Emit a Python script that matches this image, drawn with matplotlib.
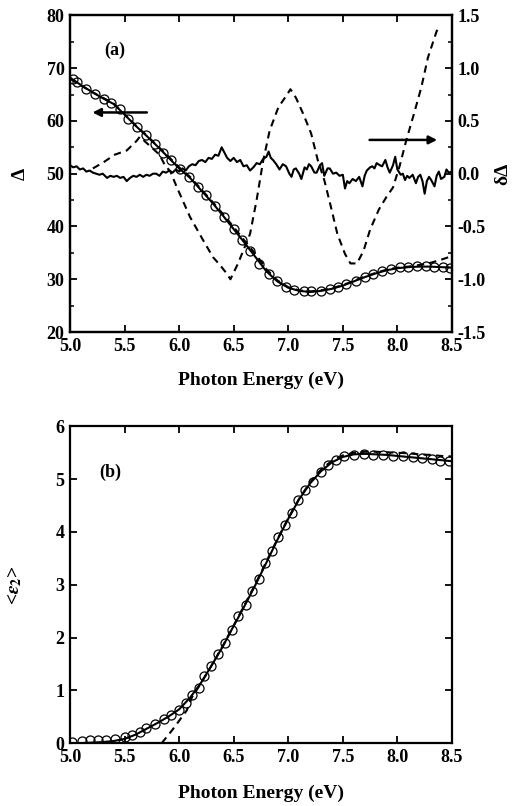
import numpy as np
import matplotlib
matplotlib.use('Agg')
import matplotlib.pyplot as plt
from matplotlib.ticker import MultipleLocator

plt.rcParams['font.family'] = ['Liberation Serif', 'DejaVu Serif']
plt.rcParams['font.weight'] = 'bold'
plt.rcParams['mathtext.fontset'] = 'stix'

# ---- panel (a): Delta (left axis) ----
a_circ_E = [5.03, 5.06, 5.15, 5.23, 5.31, 5.38, 5.46, 5.53, 5.61, 5.70, 5.78, 5.85,
            5.93, 6.01, 6.09, 6.17, 6.25, 6.33, 6.41, 6.50, 6.58, 6.65, 6.73, 6.82,
            6.90, 6.98, 7.05, 7.14, 7.21, 7.30, 7.38, 7.46, 7.53, 7.62, 7.70, 7.78,
            7.86, 7.94, 8.02, 8.10, 8.18, 8.26, 8.34, 8.42, 8.48]
a_circ_D = [67.9, 67.4, 66.1, 65.1, 64.2, 63.4, 62.2, 60.4, 58.9, 57.3, 55.7, 53.9,
            52.5, 50.9, 49.4, 47.5, 45.9, 43.8, 41.8, 39.6, 37.5, 35.4, 32.9, 31.0,
            29.7, 28.6, 27.9, 27.7, 27.7, 27.8, 28.2, 28.5, 29.1, 29.7, 30.4, 31.0,
            31.5, 32.0, 32.3, 32.3, 32.5, 32.5, 32.3, 32.3, 32.2]

fit_E = [5.0, 5.1, 5.2, 5.3, 5.4, 5.5, 5.6, 5.7, 5.8, 5.9, 6.0, 6.1, 6.2, 6.3, 6.4,
         6.5, 6.6, 6.7, 6.8, 6.9, 7.0, 7.1, 7.2, 7.3, 7.4, 7.5, 7.6, 7.7, 7.8, 7.9,
         8.0, 8.1, 8.2, 8.3, 8.4, 8.5]
a_fit_D = [68.2, 66.8, 65.5, 64.3, 63.2, 61.2, 59.1, 57.2, 55.2, 53.1, 51.0, 49.2,
           46.9, 44.6, 42.1, 39.5, 36.9, 34.2, 31.5, 29.6, 28.4, 27.8, 27.6, 27.8,
           28.2, 28.8, 29.6, 30.4, 31.1, 31.7, 32.1, 32.3, 32.4, 32.4, 32.3, 32.2]
a_alt_D = [68.0, 66.7, 65.5, 64.4, 63.3, 61.3, 59.2, 57.3, 55.3, 53.3, 51.2, 49.4,
           47.1, 44.8, 42.4, 39.9, 37.3, 34.8, 31.9, 29.8, 28.5, 27.9, 27.7, 27.9,
           28.3, 28.9, 29.7, 30.5, 31.2, 31.8, 32.2, 32.4, 32.7, 33.1, 33.7, 34.4]

# ---- panel (a): delta-Delta (right axis) ----
noise_E = [5.00, 5.03, 5.06, 5.09, 5.12, 5.15, 5.18, 5.21, 5.24, 5.27, 5.30, 5.34,
           5.37, 5.40, 5.43, 5.46, 5.49, 5.52, 5.55, 5.58, 5.61, 5.64, 5.67, 5.70,
           5.73, 5.76, 5.79, 5.82, 5.85, 5.88, 5.91, 5.94, 5.97, 6.00, 6.03, 6.06,
           6.09, 6.12, 6.15, 6.18, 6.21, 6.24, 6.27, 6.30, 6.33, 6.36, 6.39, 6.41,
           6.44, 6.47, 6.50, 6.53, 6.56, 6.59, 6.62, 6.65, 6.68, 6.71, 6.74, 6.77,
           6.80, 6.82, 6.84, 6.86, 6.89, 6.92, 6.95, 6.98, 7.01, 7.03, 7.05, 7.07,
           7.10, 7.12, 7.15, 7.17, 7.19, 7.21, 7.24, 7.26, 7.29, 7.31, 7.33, 7.36,
           7.38, 7.41, 7.44, 7.47, 7.50, 7.52, 7.54, 7.56, 7.59, 7.62, 7.65, 7.68,
           7.70, 7.72, 7.75, 7.77, 7.79, 7.81, 7.84, 7.86, 7.89, 7.91, 7.93, 7.96,
           7.98, 8.00, 8.03, 8.05, 8.07, 8.09, 8.11, 8.14, 8.17, 8.19, 8.21, 8.23,
           8.25, 8.27, 8.29, 8.31, 8.34, 8.36, 8.38, 8.40, 8.43, 8.45, 8.47, 8.50]
noise_dD = [0.08, 0.06, 0.07, 0.04, 0.05, 0.02, 0.03, 0.01, 0.00, -0.01, 0.00, -0.04,
            -0.02, -0.03, -0.02, -0.04, -0.03, -0.07, -0.04, -0.02, -0.03, -0.01, -0.03, -0.01,
            -0.02, 0.00, 0.00, -0.02, 0.02, 0.01, 0.03, 0.01, 0.04, 0.02, 0.05, 0.03,
            0.07, 0.09, 0.08, 0.12, 0.13, 0.11, 0.15, 0.14, 0.18, 0.17, 0.25, 0.21,
            0.15, 0.12, 0.15, 0.11, 0.13, 0.07, 0.08, 0.03, 0.06, 0.10, 0.09, 0.14,
            0.16, 0.21, 0.15, 0.13, 0.09, 0.04, 0.09, 0.07, 0.00, -0.03, 0.04, 0.05,
            0.00, -0.05, 0.06, 0.04, 0.09, 0.07, 0.01, 0.01, 0.08, 0.10, -0.02, 0.05,
            0.05, 0.00, 0.01, -0.02, -0.01, -0.14, -0.07, -0.09, -0.05, -0.07, -0.03, -0.12,
            -0.02, 0.03, 0.06, 0.07, 0.05, 0.10, 0.08, 0.07, 0.13, 0.06, 0.01, 0.08,
            0.16, 0.04, -0.01, 0.00, -0.06, -0.02, -0.04, -0.01, -0.09, -0.03, -0.01, -0.07,
            -0.19, -0.07, -0.03, -0.06, -0.12, -0.02, 0.02, -0.05, -0.03, 0.04, 0.01, 0.02]

dash_E = [5.21, 5.31, 5.41, 5.52, 5.61, 5.64, 5.82, 5.87, 5.92, 5.98, 6.04, 6.10,
          6.16, 6.22, 6.31, 6.37, 6.44, 6.47, 6.54, 6.65, 6.71, 6.77, 6.83, 6.91,
          6.99, 7.02, 7.07, 7.14, 7.21, 7.27, 7.33, 7.39, 7.45, 7.52, 7.57, 7.63,
          7.69, 7.75, 7.83, 7.90, 7.96, 8.02, 8.08, 8.15, 8.22, 8.28, 8.36, 8.38]
dash_dD = [0.05, 0.11, 0.18, 0.22, 0.31, 0.35, 0.18, 0.08, 0.02, -0.13, -0.27, -0.41,
           -0.52, -0.63, -0.79, -0.86, -0.95, -1.00, -0.85, -0.57, -0.25, 0.12, 0.41, 0.63,
           0.75, 0.80, 0.72, 0.56, 0.38, 0.13, -0.06, -0.31, -0.57, -0.76, -0.85, -0.85,
           -0.73, -0.53, -0.34, -0.22, -0.13, 0.07, 0.31, 0.56, 0.82, 1.10, 1.35, 1.39]

# ---- panel (b): <eps2> ----
b_circ_E = [5.02, 5.11, 5.18, 5.26, 5.33, 5.41, 5.50, 5.57, 5.64, 5.70, 5.78, 5.86,
            5.93, 6.00, 6.06, 6.12, 6.18, 6.23, 6.29, 6.36, 6.42, 6.48, 6.54, 6.61,
            6.67, 6.73, 6.79, 6.85, 6.91, 6.97, 7.03, 7.09, 7.15, 7.23, 7.30, 7.36,
            7.44, 7.51, 7.60, 7.69, 7.78, 7.87, 7.96, 8.05, 8.14, 8.23, 8.32, 8.39, 8.47]
b_circ_e2 = [0.03, 0.04, 0.05, 0.05, 0.06, 0.07, 0.11, 0.16, 0.22, 0.28, 0.37, 0.45,
             0.54, 0.63, 0.76, 0.92, 1.05, 1.27, 1.46, 1.68, 1.90, 2.15, 2.40, 2.62,
             2.88, 3.10, 3.41, 3.63, 3.91, 4.13, 4.35, 4.60, 4.79, 4.95, 5.14, 5.26,
             5.36, 5.43, 5.46, 5.48, 5.46, 5.46, 5.44, 5.43, 5.42, 5.40, 5.38, 5.35, 5.34]
b_fit_e2 = [0.0, 0.0, 0.01, 0.02, 0.04, 0.08, 0.16, 0.27, 0.38, 0.50, 0.64, 0.86,
            1.14, 1.48, 1.83, 2.22, 2.60, 3.00, 3.42, 3.85, 4.25, 4.62, 4.92, 5.15,
            5.32, 5.42, 5.47, 5.48, 5.47, 5.46, 5.44, 5.42, 5.40, 5.38, 5.36, 5.34]
b_alt_E = [5.84, 5.90, 5.96, 6.02, 6.07, 6.12, 6.2, 6.3, 6.4, 6.5, 6.6, 6.7, 6.8,
           6.9, 7.0, 7.1, 7.2, 7.3, 7.4, 7.5, 7.6, 7.7, 7.8, 7.9, 8.0, 8.1, 8.2,
           8.3, 8.4, 8.5]
b_alt_e2 = [0.0, 0.15, 0.31, 0.48, 0.62, 0.88, 1.13, 1.48, 1.84, 2.23, 2.62, 3.02,
            3.44, 3.86, 4.26, 4.63, 4.94, 5.18, 5.35, 5.45, 5.50, 5.52, 5.52, 5.51,
            5.50, 5.49, 5.47, 5.46, 5.44, 5.43]

fig = plt.figure(figsize=(5.12, 8.06), dpi=100)
ax = fig.add_axes([0.1367, 0.588, 0.746, 0.393])
axr = ax.twinx()
bx = fig.add_axes([0.1367, 0.078, 0.746, 0.393])

dash = (0, (3.5, 2.5))
lw = 1.5

ax.plot(fit_E, a_alt_D, color='black', lw=lw, ls=dash)
ax.plot(fit_E, a_fit_D, color='black', lw=lw)
ax.plot(a_circ_E, a_circ_D, ls='none', marker='o', ms=6.5, mfc='none',
        mec='black', mew=0.9)
axr.plot(noise_E, noise_dD, color='black', lw=lw)
axr.plot(dash_E, dash_dD, color='black', lw=lw, ls=dash)

bx.plot(b_alt_E, b_alt_e2, color='black', lw=lw, ls=dash)
bx.plot(fit_E, b_fit_e2, color='black', lw=lw)
bx.plot(b_circ_E, b_circ_e2, ls='none', marker='o', ms=6.5, mfc='none',
        mec='black', mew=0.9)

ax.set_xlim(5.0, 8.5)
ax.set_ylim(20, 80)
axr.set_ylim(-1.5, 1.5)
bx.set_xlim(5.0, 8.5)
bx.set_ylim(0, 6)

for a in (ax, axr, bx):
    for s in a.spines.values():
        s.set_linewidth(1.6)
    a.xaxis.set_major_locator(MultipleLocator(0.5))
    a.tick_params(which='both', direction='in', labelsize=13, pad=4)
    a.tick_params(which='major', length=5, width=1.3)
    a.tick_params(which='minor', length=3, width=1.1)

ax.yaxis.set_major_locator(MultipleLocator(10))
ax.yaxis.set_minor_locator(MultipleLocator(5))
axr.yaxis.set_major_locator(MultipleLocator(0.5))
axr.yaxis.set_minor_locator(MultipleLocator(0.25))
ax.tick_params(top=True, right=False)
axr.tick_params(right=True)
bx.yaxis.set_major_locator(MultipleLocator(1))
bx.tick_params(top=True, right=True)

ax.set_xticklabels(['%.1f' % v for v in ax.get_xticks()])
bx.set_xticklabels(['%.1f' % v for v in bx.get_xticks()])
axr.set_yticklabels(['%.1f' % v for v in axr.get_yticks()])

ax.set_xlabel('Photon Energy (eV)', fontsize=14, fontweight='bold')
bx.set_xlabel('Photon Energy (eV)', fontsize=14, fontweight='bold')
ax.xaxis.set_label_coords(0.5, -0.125)
bx.xaxis.set_label_coords(0.5, -0.13)

ax.set_ylabel('Δ', fontsize=14, fontweight='bold')
ax.yaxis.set_label_coords(-0.108, 0.5)
axr.set_ylabel('δΔ', fontsize=14, fontweight='bold', rotation=90)
axr.yaxis.set_label_coords(1.112, 0.5)
bx.set_ylabel(r'<$\varepsilon_2$>', fontsize=14, fontweight='bold')
bx.yaxis.set_label_coords(-0.12, 0.5)

ax.text(5.41, 73.4, '(a)', fontsize=13, fontweight='bold', ha='center', va='center')
bx.text(5.37, 5.13, '(b)', fontsize=13, fontweight='bold', ha='center', va='center')

ax.annotate('', xy=(5.18, 61.6), xytext=(5.73, 61.6),
            arrowprops=dict(arrowstyle='-|>', color='black', lw=1.8, mutation_scale=12))
axr.annotate('', xy=(8.39, 0.32), xytext=(7.72, 0.32),
             arrowprops=dict(arrowstyle='-|>', color='black', lw=1.8, mutation_scale=12))

fig.savefig('out.png', dpi=100)
